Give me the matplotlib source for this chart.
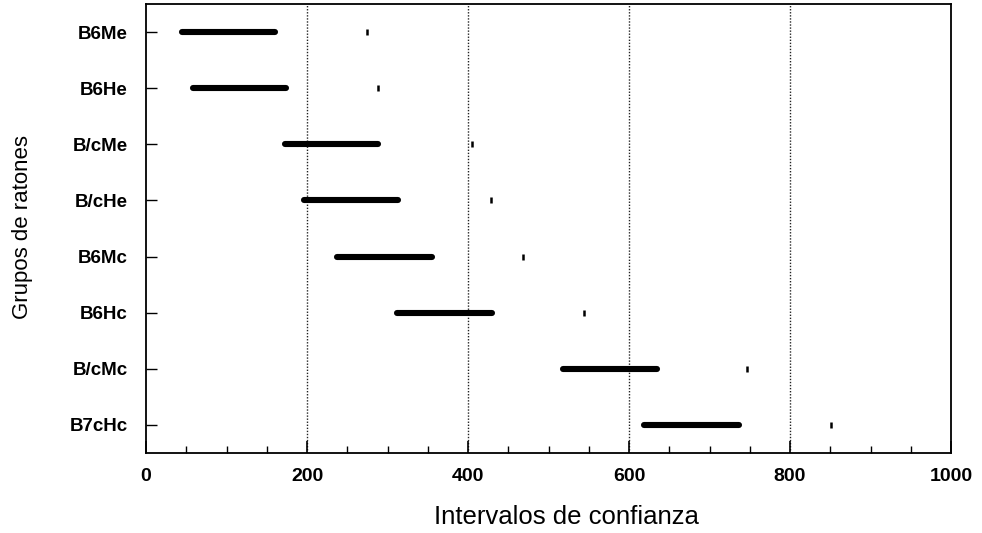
import matplotlib
matplotlib.use("Agg")
import matplotlib.pyplot as plt
from matplotlib.ticker import MultipleLocator

# ---- data ----
groups = ["B6Me", "B6He", "B/cMe", "B/cHe", "B6Mc", "B6Hc", "B/cMc", "B7cHc"]
lower = [45, 58, 173, 196, 237, 312, 518, 619]
upper = [160, 174, 288, 313, 355, 430, 635, 737]
marks = [275, 288, 405, 428, 468, 544, 747, 851]
x_ticks = [0, 200, 400, 600, 800, 1000]
grid_x = [200, 400, 600, 800]

plt.rcParams['font.family'] = ['Liberation Sans', 'DejaVu Sans']

fig = plt.figure(figsize=(9.82, 5.33), dpi=100)
ax = fig.add_axes([146/982, 1-453/533, (951-146)/982, (453-4)/533])

ypos = list(range(len(groups)))
ax.hlines(ypos, lower, upper, colors='black', linewidth=4.4, capstyle='round', zorder=3)
ax.plot(marks, ypos, linestyle='none', marker='|', markersize=5, mew=1.8, color='black', zorder=3)

for gx in grid_x:
    ax.axvline(gx, color='#222222', linestyle=(0, (1, 1.2)), linewidth=1.0, zorder=1)

ax.set_xlim(0, 1000)
ax.set_ylim(len(groups) - 0.5, -0.5)
ax.set_xticks(x_ticks)
ax.set_xticklabels([str(t) for t in x_ticks], fontsize=14, fontweight='bold')
ax.xaxis.set_minor_locator(MultipleLocator(50))
ax.set_yticks(ypos)
ax.set_yticklabels(groups, fontsize=13.5, fontweight='bold')

ax.tick_params(axis='x', which='major', direction='in', length=9, width=1.2, pad=11)
ax.tick_params(axis='x', which='minor', direction='in', length=5, width=1.0)
ax.tick_params(axis='y', which='major', direction='in', length=8, width=1.0, pad=13)

for s in ax.spines.values():
    s.set_linewidth(1.3)

ax.set_xlabel("Intervalos de confianza", fontsize=18.5, va='center')
ax.xaxis.set_label_coords(0.522, -0.142)
ax.set_ylabel("Grupos de ratones", fontsize=16, va='center')
ax.yaxis.set_label_coords(-0.154, 0.503)

fig.savefig("out.png", dpi=100)
